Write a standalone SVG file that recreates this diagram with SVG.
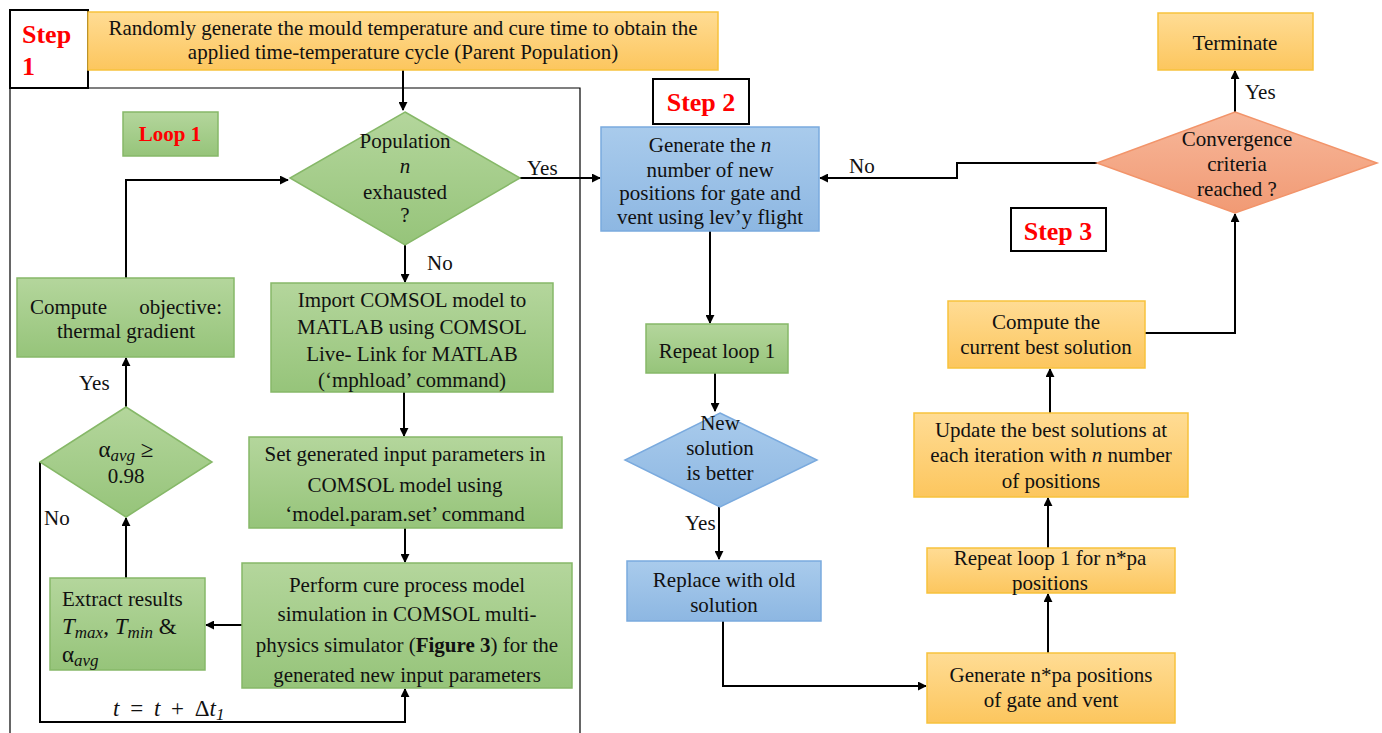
<svg xmlns="http://www.w3.org/2000/svg" width="1382" height="733" viewBox="0 0 1382 733">
<defs>
<linearGradient id="gG" x1="0" y1="0" x2="0" y2="1"><stop offset="0" stop-color="#b4d69c"/><stop offset="1" stop-color="#96c47a"/></linearGradient>
<linearGradient id="gO" x1="0" y1="0" x2="0" y2="1"><stop offset="0" stop-color="#ffdc94"/><stop offset="1" stop-color="#fcc65e"/></linearGradient>
<linearGradient id="gB" x1="0" y1="0" x2="0" y2="1"><stop offset="0" stop-color="#a9cbec"/><stop offset="1" stop-color="#8db7e2"/></linearGradient>
<linearGradient id="gR" x1="0" y1="0" x2="0" y2="1"><stop offset="0" stop-color="#f7b79a"/><stop offset="1" stop-color="#f19a74"/></linearGradient>
<marker id="ar" viewBox="0 0 10 10" refX="9" refY="5" markerWidth="9" markerHeight="9" markerUnits="userSpaceOnUse" orient="auto"><path d="M0,0 L10,5 L0,10 z" fill="#000"/></marker>
</defs>
<style>
text{font-family:"Liberation Serif","Times New Roman",serif;font-size:21px;fill:#111;}
.c{text-anchor:middle;}
.g{fill:url(#gG);stroke:#86b868;stroke-width:1.5;}
.o{fill:url(#gO);stroke:#f7c23c;stroke-width:1.5;}
.b{fill:url(#gB);stroke:#7aaade;stroke-width:1.5;}
.r{fill:url(#gR);stroke:#f2946a;stroke-width:1.5;}
.lbl{fill:#fff;stroke:#000;stroke-width:2;}
.step{font-weight:bold;fill:#f00;font-size:26px;}
.ln{fill:none;stroke:#000;stroke-width:2;}
.i{font-style:italic;}
.sub{font-size:17px;font-style:italic;}
.m{font-size:23px;}
</style>
<rect width="1382" height="733" fill="#fff"/>
<path d="M10,733 V88 H580 V733" fill="none" stroke="#000" stroke-width="1.2"/>
<g id="connectors">
<path class="ln" d="M403,70 V110" marker-end="url(#ar)"/>
<path class="ln" d="M520,178 H600" marker-end="url(#ar)"/>
<path class="ln" d="M405,245 V282" marker-end="url(#ar)"/>
<path class="ln" d="M404,392 V436" marker-end="url(#ar)"/>
<path class="ln" d="M405,528 V562" marker-end="url(#ar)"/>
<path class="ln" d="M242,625 H206" marker-end="url(#ar)"/>
<path class="ln" d="M126,578 V518" marker-end="url(#ar)"/>
<path class="ln" d="M40,462 V722 H405 V689" marker-end="url(#ar)"/>
<path class="ln" d="M126,407 V358" marker-end="url(#ar)"/>
<path class="ln" d="M126,278 V180 H288" marker-end="url(#ar)"/>
<path class="ln" d="M1097,163 H957 V178 H820" marker-end="url(#ar)"/>
<path class="ln" d="M710,231 V323" marker-end="url(#ar)"/>
<path class="ln" d="M715,373 V411" marker-end="url(#ar)"/>
<path class="ln" d="M719,507 V559" marker-end="url(#ar)"/>
<path class="ln" d="M723,621 V686 H926" marker-end="url(#ar)"/>
<path class="ln" d="M1048,653 V594" marker-end="url(#ar)"/>
<path class="ln" d="M1048,548 V498" marker-end="url(#ar)"/>
<path class="ln" d="M1050,413 V369" marker-end="url(#ar)"/>
<path class="ln" d="M1145,333 H1235 V214" marker-end="url(#ar)"/>
<path class="ln" d="M1235,112 V71" marker-end="url(#ar)"/>
<text x="527" y="175">Yes</text>
<text x="427" y="270">No</text>
<text x="44" y="525">No</text>
<text x="79" y="390">Yes</text>
<text class="m" x="113" y="716" style="word-spacing:5px"><tspan class="i">t</tspan> = <tspan class="i">t</tspan> + Δ<tspan class="i">t</tspan><tspan class="sub" dy="4">1</tspan></text>
<text x="849" y="173">No</text>
<text x="685" y="530">Yes</text>
<text x="1245" y="99">Yes</text>
</g>
<g id="step1"><rect class="lbl" x="10" y="10" width="78" height="78"/><text class="step" x="22" y="43">Step</text><text class="step" x="22" y="75">1</text></g>
<g id="init"><rect class="o" x="88" y="12" width="630" height="58"/><text class="c" x="403" y="35">Randomly generate the mould temperature and cure time to obtain the</text><text class="c" x="403" y="59">applied time-temperature cycle (Parent Population)</text></g>
<g id="loop1"><rect class="g" x="123" y="112" width="95" height="44"/><text class="c" x="170" y="141" style="font-weight:bold;fill:#f00">Loop 1</text></g>
<g id="popdiamond"><polygon class="g" points="405,112 520,178 405,245 290,178"/><text class="c" x="405" y="148">Population</text><text class="c i" x="405" y="173">n</text><text class="c" x="405" y="199">exhausted</text><text class="c" x="405" y="222">?</text></g>
<g id="import"><rect class="g" x="271" y="283" width="282" height="109"/><text class="c" x="412" y="307">Import COMSOL model to</text><text class="c" x="412" y="334">MATLAB using COMSOL</text><text class="c" x="412" y="361">Live- Link for MATLAB</text><text class="c" x="412" y="387">(‘mphload’ command)</text></g>
<g id="setparams"><rect class="g" x="249" y="437" width="313" height="91"/><text class="c" x="405" y="461">Set generated input parameters in</text><text class="c" x="405" y="492">COMSOL model using</text><text class="c" x="405" y="521">‘model.param.set’ command</text></g>
<g id="perform"><rect class="g" x="242" y="563" width="330" height="125"/><text class="c" x="407" y="592">Perform cure process model</text><text class="c" x="407" y="621">simulation in COMSOL multi-</text><text class="c" x="407" y="652">physics simulator (<tspan font-weight="bold">Figure 3</tspan>) for the</text><text class="c" x="407" y="682">generated new input parameters</text></g>
<g id="extract"><rect class="g" x="50" y="578" width="155" height="92"/><text x="62" y="606">Extract results</text><text class="m" x="62" y="634"><tspan class="i">T</tspan><tspan class="sub" dy="4">max</tspan><tspan dy="-4">, </tspan><tspan class="i">T</tspan><tspan class="sub" dy="4">min</tspan><tspan dy="-4"> &amp;</tspan></text><text class="m" x="62" y="662">α<tspan class="sub" dy="4">avg</tspan></text></g>
<g id="alphadiamond"><polygon class="g" points="126,407 212,462 126,517 40,462"/><text class="c m" x="126" y="457">α<tspan class="sub" dy="4">avg</tspan><tspan dy="-4"> ≥</tspan></text><text class="c" x="126" y="483">0.98</text></g>
<g id="objective"><rect class="g" x="17" y="278" width="217" height="79"/><text x="30" y="314">Compute</text><text x="222" y="314" text-anchor="end">objective:</text><text class="c" x="126" y="338">thermal gradient</text></g>
<g id="step2"><rect class="lbl" x="653" y="79" width="96" height="45"/><text class="step c" x="701" y="111">Step 2</text></g>
<g id="levy"><rect class="b" x="601" y="127" width="218" height="104"/><text class="c" x="710" y="152">Generate the <tspan class="i">n</tspan></text><text class="c" x="710" y="177">number of new</text><text class="c" x="710" y="200">positions for gate and</text><text class="c" x="710" y="224">vent using lev’y flight</text></g>
<g id="repeat1"><rect class="g" x="646" y="324" width="142" height="49"/><text class="c" x="717" y="358">Repeat loop 1</text></g>
<g id="newsol"><polygon class="b" points="720,413 817,460 720,507 625,460"/><text class="c" x="720" y="430">New</text><text class="c" x="720" y="455">solution</text><text class="c" x="720" y="480">is better</text></g>
<g id="replace"><rect class="b" x="627" y="561" width="194" height="60"/><text class="c" x="724" y="587">Replace with old</text><text class="c" x="724" y="612">solution</text></g>
<g id="gennpa"><rect class="o" x="927" y="653" width="248" height="70"/><text class="c" x="1051" y="682">Generate n*pa positions</text><text class="c" x="1051" y="707">of gate and vent</text></g>
<g id="repeatnpa"><rect class="o" x="927" y="548" width="248" height="45"/><text class="c" x="1050" y="565">Repeat loop 1 for n*pa</text><text class="c" x="1050" y="590">positions</text></g>
<g id="update"><rect class="o" x="914" y="413" width="274" height="84"/><text class="c" x="1051" y="437">Update the best solutions at</text><text class="c" x="1051" y="462">each iteration with <tspan class="i">n</tspan> number</text><text class="c" x="1051" y="488">of positions</text></g>
<g id="best"><rect class="o" x="948" y="301" width="197" height="67"/><text class="c" x="1046" y="329">Compute the</text><text class="c" x="1046" y="354">current best solution</text></g>
<g id="step3"><rect class="lbl" x="1011" y="208" width="95" height="43"/><text class="step c" x="1058" y="240">Step 3</text></g>
<g id="converge"><polygon class="r" points="1235,112 1377,163 1235,213 1097,163"/><text class="c" x="1237" y="146">Convergence</text><text class="c" x="1237" y="171">criteria</text><text class="c" x="1237" y="196">reached ?</text></g>
<g id="terminate"><rect class="o" x="1158" y="13" width="155" height="57"/><text class="c" x="1235" y="50">Terminate</text></g>
</svg>
